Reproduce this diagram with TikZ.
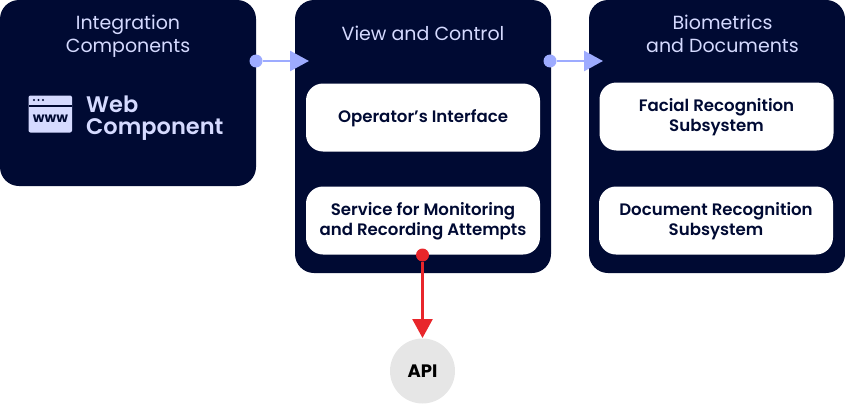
\documentclass[tikz,border=0pt]{standalone}
\usepackage{fontspec}
\setmainfont{Poppins}
\newfontfamily\med{Poppins Medium}
\newfontfamily\semi{Poppins SemiBold}
\usetikzlibrary{arrows.meta}
\definecolor{navy}{HTML}{000A33}
\definecolor{peri}{HTML}{9DABFF}
\definecolor{lav}{HTML}{D5DAFF}
\definecolor{redc}{HTML}{E8262B}
\definecolor{greyc}{HTML}{E6E6E6}
\newcommand{\dn}[1]{\raisebox{-1pt}[\height][\depth]{#1}}
\tikzset{x=1pt,y=-1pt,
 panel/.style={fill=navy,draw=none,rounded corners=19pt,minimum height=0pt},
 card/.style={fill=white,draw=none,rounded corners=17pt,inner sep=0pt,align=center,text=navy,minimum width=234pt,minimum height=68pt,font=\fontsize{16.6}{20}\selectfont\semi},
 title/.style={inner sep=0pt,align=center,text=lav,font=\fontsize{19}{23}\selectfont},
 flow/.style={peri,line width=2.6pt,-{Triangle[length=19pt,width=20pt]}},
 flowred/.style={redc,line width=2.6pt,-{Triangle[length=19pt,width=20pt]}},
 dotp/.style={circle,fill=peri,inner sep=0pt,minimum size=13pt},
 dotr/.style={circle,fill=redc,inner sep=0pt,minimum size=13pt}}
\begin{document}
\begin{tikzpicture}
\useasboundingbox (0,0) rectangle (845,404);
\fill[panel] (0,0) rectangle (256,186);
\fill[panel] (295,0) rectangle (551,273);
\fill[panel] (589,0) rectangle (845,273);
\node[title] (t1) at (128,36) {Integration\\Components};
\node[title] (t2) at (423,33) {View and Control};
\node[title] (t3) at (722.5,34) {Biometrics\\and Documents};
\node[card] (c1) at (423,117.5) {\dn{Operator’s Interface}};
\node[card] (c2) at (423,220.5) {\dn{Service for Monitoring}\\\dn{and Recording Attempts}};
\node[card] (c3) at (716.5,116.5) {\dn{Facial Recognition}\\\dn{Subsystem}};
\node[card] (c4) at (716,220.5) {\dn{Document Recognition}\\\dn{Subsystem}};
% web component
\node[inner sep=0pt,align=left,anchor=west,text=lav,font=\fontsize{22.5}{22.5}\selectfont\semi] (web) at (86,118) {Web\\Component};
\fill[lav,rounded corners=2pt] (28.5,95.5) rectangle (72,132.5);
\fill[navy] (28.5,105) rectangle (72,107);
\foreach \x in {34,38.5,43}\fill[navy] (\x,100) circle (1.1);
\node[inner sep=0pt,text=navy,font=\fontsize{13.5}{14}\selectfont\bfseries] (www) at (50.5,119) {www};
% connectors
\node[dotp] (d1) at (256,61) {};
\coordinate (e1) at (309,61);
\draw[flow] (d1) -- (e1);
\node[dotp] (d2) at (550,61) {};
\coordinate (e2) at (603,61);
\draw[flow] (d2) -- (e2);
\node[circle,fill=greyc,inner sep=0pt,minimum size=65pt,font=\fontsize{18}{20}\selectfont\bfseries,text=black] (api) at (422.5,371) {API};
\node[dotr] (d3) at (422.5,255) {};
\coordinate (e3) at (422.5,338);
\draw[flowred] (d3) -- (e3);
\end{tikzpicture}
\end{document}
